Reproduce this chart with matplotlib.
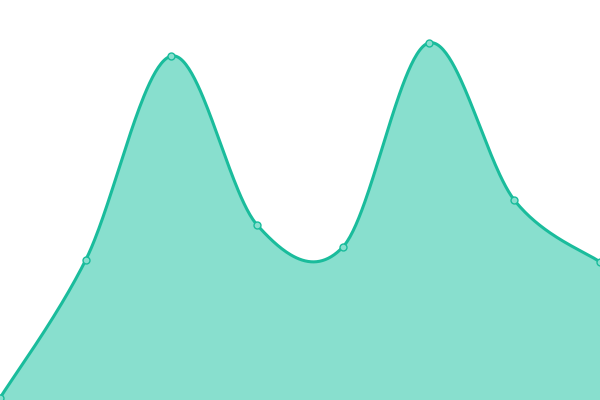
import numpy as np
import matplotlib
matplotlib.use("Agg")
import matplotlib.pyplot as plt

# values (0 at bottom edge, 400 at top edge)
labels = ["A", "B", "C", "D", "E", "F", "G", "H"]
values = [2, 140, 344, 175, 153, 357, 200, 138]

LINE = "#1abc9c"
FILL = "#88dfce"


def cardinal(xs, ys, n=60):
    # catmull-rom through the points, endpoints repeated (like d3 curveCardinal)
    px = np.concatenate([[xs[0]], xs, [xs[-1]]])
    py = np.concatenate([[ys[0]], ys, [ys[-1]]])
    out_x, out_y = [], []
    t = np.linspace(0, 1, n)
    for i in range(1, len(px) - 2):
        x0, x1, x2, x3 = px[i - 1:i + 3]
        y0, y1, y2, y3 = py[i - 1:i + 3]
        c1x, c1y = x1 + (x2 - x0) / 6, y1 + (y2 - y0) / 6
        c2x, c2y = x2 - (x3 - x1) / 6, y2 - (y3 - y1) / 6
        bx = (1 - t) ** 3 * x1 + 3 * (1 - t) ** 2 * t * c1x + 3 * (1 - t) * t ** 2 * c2x + t ** 3 * x2
        by = (1 - t) ** 3 * y1 + 3 * (1 - t) ** 2 * t * c1y + 3 * (1 - t) * t ** 2 * c2y + t ** 3 * y2
        out_x.append(bx)
        out_y.append(by)
    return np.concatenate(out_x), np.concatenate(out_y)


x = np.arange(len(values), dtype=float)
y = np.array(values, dtype=float)
cx, cy = cardinal(x, y)

fig = plt.figure(figsize=(6, 4), dpi=100)
ax = fig.add_axes([0, 0, 1, 1])
ax.fill_between(cx, 0, cy, color=FILL, lw=0)
ax.plot(cx, cy, color=LINE, lw=2.2, solid_capstyle="round")
ax.plot(x, y, "o", ms=5, mfc=FILL, mec=LINE, mew=1)

ax.set_xlim(0, len(values) - 1)
ax.set_ylim(0, 400)
ax.axis("off")

fig.savefig("out.png", dpi=100)
